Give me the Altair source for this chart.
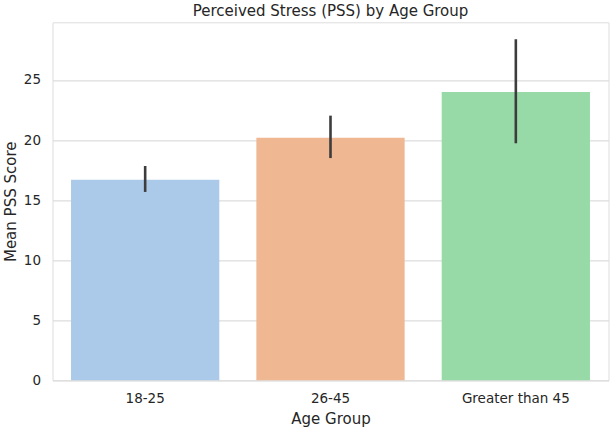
import altair as alt
import pandas as pd

# Mean perceived-stress score per age group, with the error-bar range
groups = ["18-25", "26-45", "Greater than 45"]
mean_pss = [16.70, 20.20, 24.00]
err_low = [15.68, 18.50, 19.73]
err_high = [17.84, 22.03, 28.39]
bar_colors = ["#abc9e9", "#efb792", "#98daa7"]
y_ticks = [0, 5, 10, 15, 20, 25]

df = pd.DataFrame({"group": groups, "mean": mean_pss, "low": err_low, "high": err_high})

TEXT = "#262626"
FONT = "DejaVu Sans"

x_enc = alt.X(
    "group:N",
    sort=groups,
    title="Age Group",
    scale=alt.Scale(paddingInner=0.2, paddingOuter=0.1),
    axis=alt.Axis(
        labelAngle=0, grid=False, ticks=False, domain=False,
        labelPadding=11, labelFontSize=13.5, labelColor=TEXT, labelFont=FONT,
        titleFontSize=15, titleFontWeight="normal", titleColor=TEXT, titleFont=FONT,
        titleBaseline="alphabetic", titleY=43,
    ),
)

y_scale = alt.Scale(domain=[0, 29.8], nice=False, zero=True)

bars = alt.Chart(df).mark_bar(stroke=None).encode(
    x=x_enc,
    y=alt.Y(
        "mean:Q",
        scale=y_scale,
        title="Mean PSS Score",
        axis=alt.Axis(
            values=y_ticks, grid=True, gridColor="#dddddd", gridWidth=1.2,
            ticks=False, domain=False, labelPadding=12,
            labelFontSize=13.5, labelColor=TEXT, labelFont=FONT,
            titleFontSize=15, titleFontWeight="normal", titleColor=TEXT, titleFont=FONT,
            titleBaseline="alphabetic", titleX=-37.5, titleY=179,
        ),
    ),
    color=alt.Color("group:N", scale=alt.Scale(domain=groups, range=bar_colors), legend=None),
)

errors = alt.Chart(df).mark_rule(color="#3d3d3d", strokeWidth=2.6).encode(
    x=alt.X("group:N", sort=groups),
    y=alt.Y("low:Q", scale=y_scale),
    y2="high:Q",
)

chart = (
    alt.layer(bars, errors)
    .properties(
        width=556,
        height=358,
        title=alt.TitleParams(
            "Perceived Stress (PSS) by Age Group",
            fontSize=15, fontWeight="normal", color=TEXT, font=FONT,
            anchor="middle", frame="group", offset=3,
        ),
        padding={"left": 52.5, "top": 22.3, "right": 2.5, "bottom": 48.7},
        autosize=alt.AutoSizeParams(type="none"),
    )
    .configure_view(stroke="#cccccc", strokeWidth=1.5)
    .configure(background="white")
)

chart.save("out.html", embed_options={"renderer": "svg", "actions": False})
